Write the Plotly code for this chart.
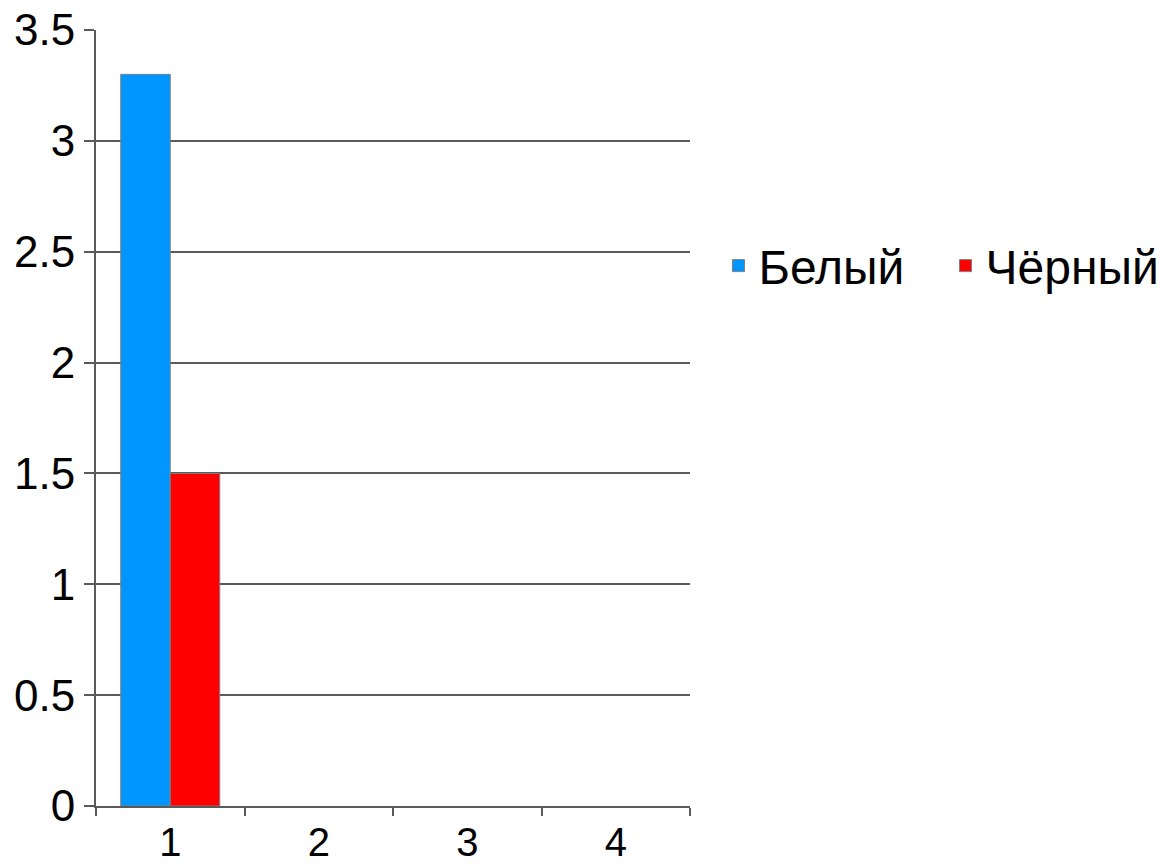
import plotly.graph_objects as go

# Категории по оси X и значения двух рядов
categories = ["1", "2", "3", "4"]
white_values = [3.3, None, None, None]
black_values = [1.5, None, None, None]
series_names = ["Белый", "Чёрный"]
series_colors = ["#0096FF", "#FF0000"]

AXIS_GREY = "#5a5a5a"
FAMILY = "Liberation Sans, Arial, sans-serif"
Y_TICK_FONT = dict(family=FAMILY, size=44, color="black")
X_TICK_FONT = dict(family=FAMILY, size=40, color="black")
LEGEND_FONT = dict(family=FAMILY, size=48, color="black")

fig = go.Figure()
for name, vals, color in zip(series_names, [white_values, black_values], series_colors):
    fig.add_trace(go.Bar(
        x=categories, y=vals, name=name,
        marker=dict(color=color, line=dict(color="#808080", width=1)),
    ))

fig.update_layout(
    width=1163, height=867,
    margin=dict(l=96, r=473, t=30, b=61, autoexpand=False),
    paper_bgcolor="white", plot_bgcolor="white",
    font=Y_TICK_FONT,
    barmode="group", bargap=0.333, bargroupgap=0,
    showlegend=True,
    legend=dict(
        orientation="h", x=1.048, y=0.696, xanchor="left", yanchor="middle",
        font=LEGEND_FONT, itemwidth=30, entrywidth=182, entrywidthmode="pixels",
        bgcolor="rgba(0,0,0,0)",
    ),
)

fig.update_xaxes(
    type="category", tickson="boundaries", automargin=False,
    ticks="outside", ticklen=8, tickwidth=2, tickcolor=AXIS_GREY,
    showline=True, linecolor=AXIS_GREY, linewidth=2,
    showgrid=False, tickfont=X_TICK_FONT,
)
fig.update_yaxes(
    range=[0, 3.5], dtick=0.5, tick0=0, automargin=False,
    ticks="outside", ticklen=10, tickwidth=2, tickcolor=AXIS_GREY,
    showline=True, linecolor=AXIS_GREY, linewidth=2,
    showgrid=True, gridcolor=AXIS_GREY, gridwidth=1.5,
    zeroline=False, tickfont=Y_TICK_FONT,
)

fig.write_html("out.html")
